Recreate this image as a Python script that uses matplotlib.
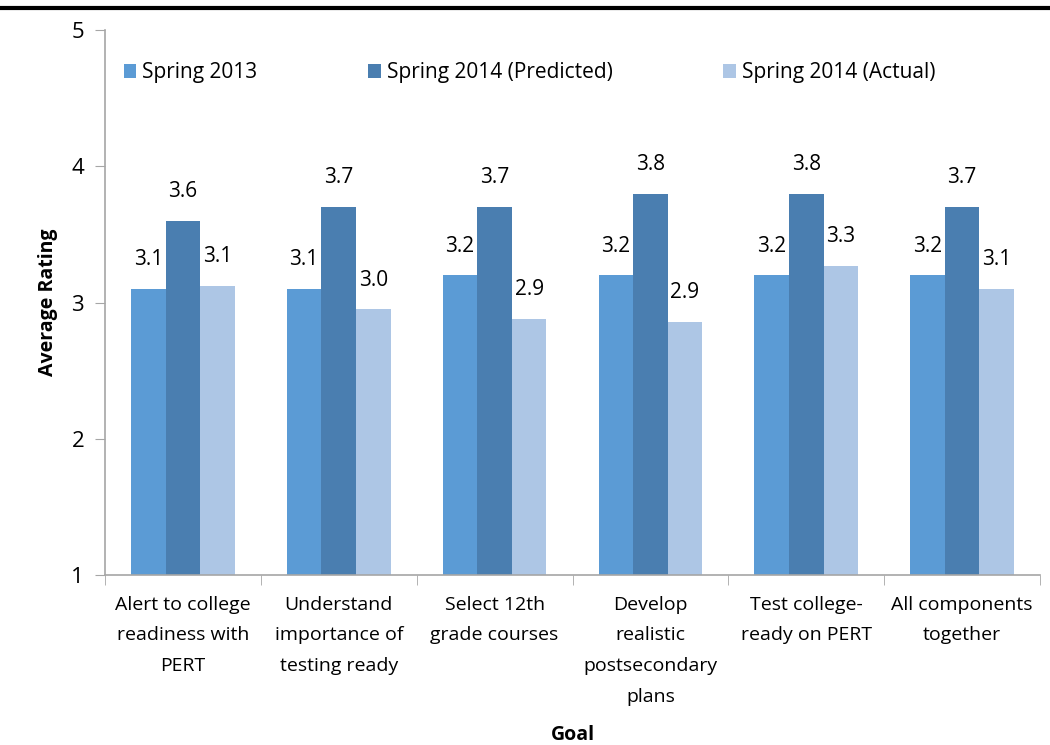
import numpy as np
import matplotlib.pyplot as plt
from matplotlib.lines import Line2D

goals = ['Alert to college\nreadiness with\nPERT', 'Understand\nimportance of\ntesting ready',
         'Select 12th\ngrade courses', 'Develop\nrealistic\npostsecondary\nplans',
         'Test college-\nready on PERT', 'All components\ntogether']
spring_2013 = [3.1, 3.1, 3.2, 3.2, 3.2, 3.2]
spring_2014_pred = [3.6, 3.7, 3.7, 3.8, 3.8, 3.7]
spring_2014_act = [3.12, 2.95, 2.88, 2.86, 3.27, 3.10]
series_names = ['Spring 2013', 'Spring 2014 (Predicted)', 'Spring 2014 (Actual)']
colors = ['#5B9BD5', '#4A7EB0', '#ADC6E5']

plt.rcParams['font.family'] = ['Open Sans', 'DejaVu Sans']

fig = plt.figure(figsize=(10.5, 7.45), dpi=100)
ax = fig.add_axes([0.1, 0.2282, 0.8905, 0.7315])

x = np.arange(len(goals))
w = 0.222
for i, (vals, name, c) in enumerate(zip([spring_2013, spring_2014_pred, spring_2014_act], series_names, colors)):
    bars = ax.bar(x + (i - 1) * w, np.array(vals) - 1, w, bottom=1, color=c, label=name)
    for xb, v in zip(x + (i - 1) * w, vals):
        ax.annotate(f'{v:.1f}', (xb, v), xytext=(0, 21), textcoords='offset points',
                    ha='center', va='center', fontsize=15)

ax.set_ylim(1, 5)
ax.set_xlim(-0.5, len(goals) - 0.5)
ax.set_yticks([1, 2, 3, 4, 5])
ax.set_xticks(x)
ax.set_xticklabels(goals, fontsize=14, linespacing=1.9)
ax.set_xticks(np.arange(len(goals) + 1) - 0.5, minor=True)
ax.tick_params(axis='x', which='major', length=0, pad=15)
ax.tick_params(axis='x', which='minor', length=7, color='#A6A6A6', direction='out')
ax.tick_params(axis='y', length=7, color='#A6A6A6', labelsize=16, pad=8)

for s in ['top', 'right']:
    ax.spines[s].set_visible(False)
for s in ['left', 'bottom']:
    ax.spines[s].set_color('#A6A6A6')
    ax.spines[s].set_linewidth(1.2)

ax.set_ylabel('Average Rating', fontsize=14, fontweight='bold', labelpad=10)
ax.set_xlabel('Goal', fontsize=14, fontweight='bold', labelpad=14)

ax.legend(loc='upper left', bbox_to_anchor=(0.0, 0.975), ncol=3, frameon=False,
          fontsize=15, handlelength=0.6, handleheight=0.6, handletextpad=0.3,
          columnspacing=5.3)

fig.add_artist(Line2D([0, 1], [0.989, 0.989], transform=fig.transFigure, color='black', lw=3))

fig.savefig('out.png', dpi=100)
